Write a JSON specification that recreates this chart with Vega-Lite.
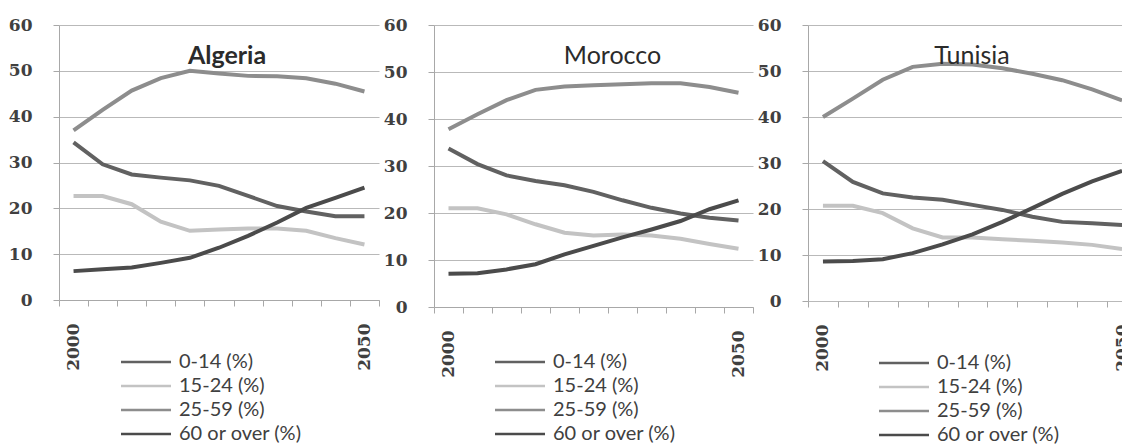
{
  "$schema": "https://vega.github.io/schema/vega-lite/v6.json",
  "background": "white",
  "padding": {"left": 8, "top": 16, "right": -7, "bottom": 0},
  "bounds": "flush",
  "spacing": 55,
  "datasets": {
    "algeria": [
      {"year": 2000, "a": 34.4, "b": 22.7, "c": 37.0, "d": 6.3},
      {"year": 2005, "a": 29.6, "b": 22.7, "c": 41.5, "d": 6.7},
      {"year": 2010, "a": 27.4, "b": 20.9, "c": 45.7, "d": 7.1},
      {"year": 2015, "a": 26.7, "b": 17.1, "c": 48.4, "d": 8.1},
      {"year": 2020, "a": 26.1, "b": 15.1, "c": 50.0, "d": 9.2},
      {"year": 2025, "a": 24.9, "b": 15.4, "c": 49.4, "d": 11.4},
      {"year": 2030, "a": 22.7, "b": 15.6, "c": 48.9, "d": 14.0},
      {"year": 2035, "a": 20.5, "b": 15.6, "c": 48.8, "d": 16.9},
      {"year": 2040, "a": 19.3, "b": 15.1, "c": 48.4, "d": 20.1},
      {"year": 2045, "a": 18.3, "b": 13.5, "c": 47.2, "d": 22.3},
      {"year": 2050, "a": 18.3, "b": 12.1, "c": 45.5, "d": 24.5}
    ],
    "morocco": [
      {"year": 2000, "a": 33.7, "b": 21.0, "c": 37.8, "d": 7.1},
      {"year": 2005, "a": 30.4, "b": 21.0, "c": 41.0, "d": 7.2},
      {"year": 2010, "a": 28.0, "b": 19.7, "c": 44.0, "d": 8.0},
      {"year": 2015, "a": 26.8, "b": 17.6, "c": 46.2, "d": 9.1},
      {"year": 2020, "a": 25.9, "b": 15.8, "c": 46.9, "d": 11.2},
      {"year": 2025, "a": 24.5, "b": 15.2, "c": 47.2, "d": 13.0},
      {"year": 2030, "a": 22.7, "b": 15.4, "c": 47.4, "d": 14.8},
      {"year": 2035, "a": 21.1, "b": 15.2, "c": 47.6, "d": 16.5},
      {"year": 2040, "a": 19.9, "b": 14.5, "c": 47.6, "d": 18.3},
      {"year": 2045, "a": 19.0, "b": 13.4, "c": 46.8, "d": 20.8},
      {"year": 2050, "a": 18.4, "b": 12.4, "c": 45.6, "d": 22.7}
    ],
    "tunisia": [
      {"year": 2000, "a": 30.4, "b": 20.7, "c": 40.0, "d": 8.6},
      {"year": 2005, "a": 25.9, "b": 20.7, "c": 44.0, "d": 8.7},
      {"year": 2010, "a": 23.4, "b": 19.1, "c": 48.1, "d": 9.1},
      {"year": 2015, "a": 22.5, "b": 15.8, "c": 50.9, "d": 10.4},
      {"year": 2020, "a": 22.0, "b": 13.8, "c": 51.6, "d": 12.3},
      {"year": 2025, "a": 20.9, "b": 13.8, "c": 51.4, "d": 14.5},
      {"year": 2030, "a": 19.8, "b": 13.4, "c": 50.6, "d": 17.2},
      {"year": 2035, "a": 18.3, "b": 13.1, "c": 49.4, "d": 20.2},
      {"year": 2040, "a": 17.2, "b": 12.7, "c": 48.0, "d": 23.3},
      {"year": 2045, "a": 16.9, "b": 12.2, "c": 46.0, "d": 26.0},
      {"year": 2050, "a": 16.5, "b": 11.3, "c": 43.6, "d": 28.3}
    ],
    "groups": [
      {"key": "a", "group": "0-14 (%)"},
      {"key": "b", "group": "15-24 (%)"},
      {"key": "c", "group": "25-59 (%)"},
      {"key": "d", "group": "60 or over (%)"}
    ]
  },
  "resolve": {"scale": {"color": "independent"}, "legend": {"color": "independent"}},
  "hconcat": [
    {
      "width": 320,
      "height": 275,
      "title": {"text": "Algeria", "fontWeight": "bold", "dx": 8},
      "data": {"name": "algeria"},
      "transform": [
        {"fold": ["a", "b", "c", "d"], "as": ["key", "value"]},
        {"lookup": "key", "from": {"data": {"name": "groups"}, "key": "key", "fields": ["group"]}}
      ],
      "mark": {"type": "line", "strokeWidth": 4, "clip": true},
      "encoding": {
        "x": {"field": "year", "type": "ordinal", "scale": {"type": "band", "paddingInner": 0, "paddingOuter": 0}},
        "y": {"field": "value", "type": "quantitative", "scale": {"domain": [0, 60]}},
        "color": {
          "field": "group", "type": "nominal",
          "scale": {"domain": ["0-14 (%)", "15-24 (%)", "25-59 (%)", "60 or over (%)"], "range": ["#616161", "#c3c3c3", "#8d8d8d", "#4b4b4b"]},
          "legend": {"legendX": 77, "legendY": 327}
        }
      }
    },
    {
      "width": 319,
      "height": 282,
      "title": {"text": "Morocco", "dx": 19},
      "data": {"name": "morocco"},
      "transform": [
        {"fold": ["a", "b", "c", "d"], "as": ["key", "value"]},
        {"lookup": "key", "from": {"data": {"name": "groups"}, "key": "key", "fields": ["group"]}}
      ],
      "mark": {"type": "line", "strokeWidth": 4, "clip": true},
      "encoding": {
        "x": {"field": "year", "type": "ordinal", "scale": {"type": "band", "paddingInner": 0, "paddingOuter": 0}},
        "y": {"field": "value", "type": "quantitative", "scale": {"domain": [0, 60]}},
        "color": {
          "field": "group", "type": "nominal",
          "scale": {"domain": ["0-14 (%)", "15-24 (%)", "25-59 (%)", "60 or over (%)"], "range": ["#616161", "#c3c3c3", "#8d8d8d", "#4b4b4b"]},
          "legend": {"legendX": 76, "legendY": 327}
        }
      }
    },
    {
      "width": 316,
      "height": 276,
      "title": {"text": "Tunisia", "dx": 6},
      "data": {"name": "tunisia"},
      "transform": [
        {"fold": ["a", "b", "c", "d"], "as": ["key", "value"]},
        {"lookup": "key", "from": {"data": {"name": "groups"}, "key": "key", "fields": ["group"]}}
      ],
      "mark": {"type": "line", "strokeWidth": 4, "clip": true},
      "encoding": {
        "x": {
          "field": "year", "type": "ordinal",
          "scale": {"type": "band", "paddingInner": 0, "paddingOuter": 0, "range": [0, 329]},
          "axis": {"domain": false, "tickExtra": false}
        },
        "y": {"field": "value", "type": "quantitative", "scale": {"domain": [0, 60]}},
        "color": {
          "field": "group", "type": "nominal",
          "scale": {"domain": ["0-14 (%)", "15-24 (%)", "25-59 (%)", "60 or over (%)"], "range": ["#616161", "#c3c3c3", "#8d8d8d", "#4b4b4b"]},
          "legend": {"legendX": 86, "legendY": 328}
        }
      }
    }
  ],
  "config": {
    "view": {"stroke": null},
    "title": {"orient": "top", "anchor": "middle", "frame": "group", "offset": -53, "font": "Lato", "fontSize": 25, "fontWeight": "normal", "color": "#2b2b2b"},
    "axis": {"title": null, "domainColor": "#a8a8a8", "tickColor": "#a8a8a8", "gridColor": "#b9b9b9", "tickSize": 6, "labelFont": "DejaVu Serif", "labelFontSize": 17, "labelFontWeight": "bold", "labelColor": "#404040"},
    "axisX": {"grid": false, "tickBand": "extent", "labelAngle": -90, "labelPadding": 17, "labelExpr": "datum.value == 2000 || datum.value == 2050 ? datum.label : ''"},
    "axisY": {"grid": true, "values": [0, 10, 20, 30, 40, 50, 60], "labelPadding": 21},
    "legend": {"orient": "none", "title": null, "direction": "vertical", "symbolType": "M-5,0H5", "symbolSize": 100, "symbolStrokeWidth": 2.5, "labelFont": "Lato", "labelFontSize": 20, "labelColor": "#404040", "labelOffset": 23, "rowPadding": 4}
  }
}
